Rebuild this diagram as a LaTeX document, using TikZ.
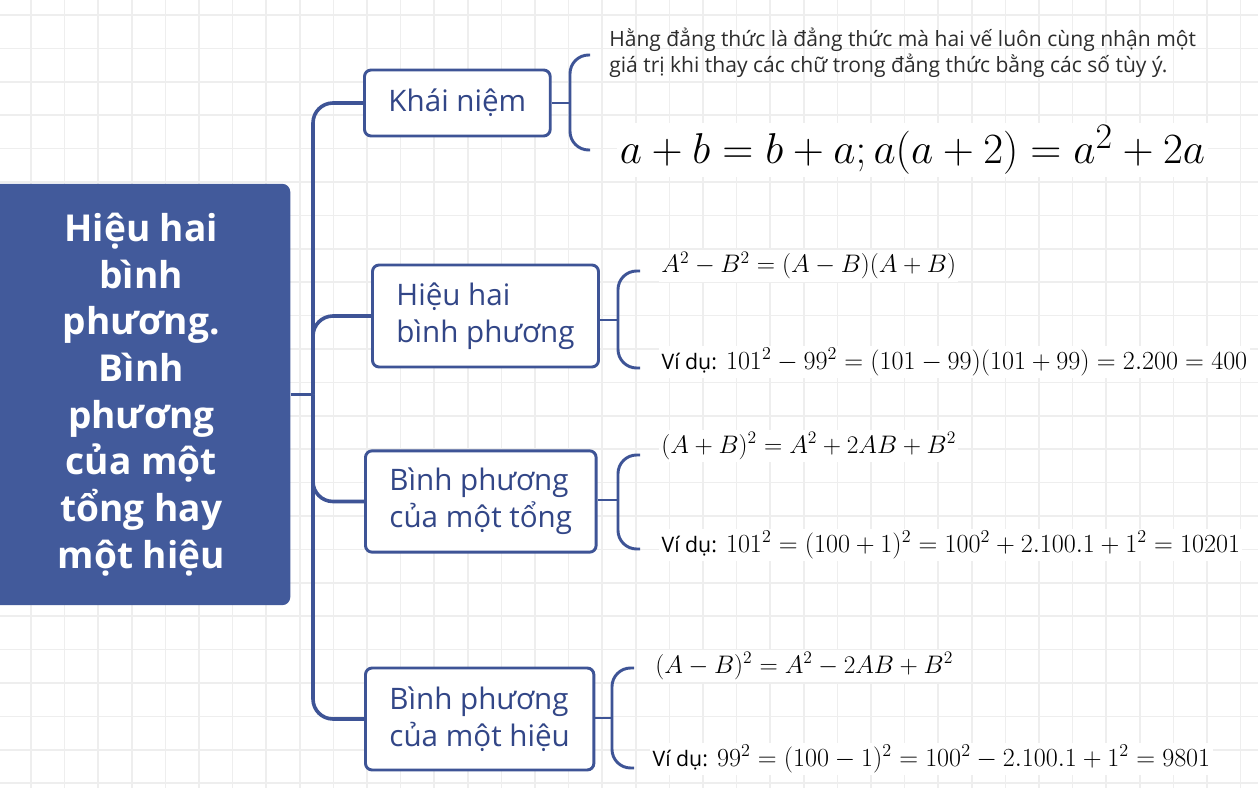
\documentclass[tikz,border=0pt]{standalone}
\usepackage[no-math]{fontspec}
\setmainfont{Open Sans}
\definecolor{mainblue}{RGB}{66,90,155}
\definecolor{lineblue}{RGB}{62,84,150}
\definecolor{txtblue}{RGB}{50,70,135}
\definecolor{gridc}{RGB}{238,238,238}
\definecolor{deftxt}{RGB}{45,45,45}
\newcommand\viduf{\fontsize{14.1}{16}\selectfont}
\begin{document}
\begin{tikzpicture}[x=0.75pt,y=-0.75pt,
  gridline/.style={draw=gridc, line width=1.2pt},
  conn/.style={draw=lineblue, line width=2.7pt, rounded corners=15pt},
  bracec/.style={draw=lineblue, line width=2.2pt, rounded corners=14pt},
  rootbox/.style={fill=mainblue, rounded corners=6pt, text=white, align=center,
    font=\fontsize{27.8}{35}\selectfont\bfseries, minimum width=223.5pt, minimum height=316pt, inner sep=0pt},
  branch/.style={draw=lineblue, line width=2.2pt, rounded corners=5pt, fill=white,
    text=txtblue, align=left, font=\fontsize{22.2}{27.5}\selectfont, inner xsep=18pt, inner ysep=0pt},
  formula/.style={fill=white, inner sep=1.5pt, text=black, font=\fontsize{17.28}{20}\selectfont, scale=1.10, transform shape},
  example/.style={fill=white, inner sep=1.5pt, text=black, font=\fontsize{17.28}{20}\selectfont, scale=1.134, transform shape},
  bigformula/.style={fill=white, inner sep=1.5pt, text=black, font=\fontsize{24.88}{28}\selectfont, scale=1.30, transform shape}
]
\clip (0,0) rectangle (1258,788);
\fill[white] (0,0) rectangle (1258,788);
\foreach \i in {0,...,37} {\draw[gridline] ({31+33.6*\i},0) -- ({31+33.6*\i},788);}
\foreach \i in {0,...,23} {\draw[gridline] (0,{15+33.4*\i}) -- (1258,{15+33.4*\i});}

% root
\node[rootbox, anchor=west] (root) at (-8,394.5) {Hiệu hai\\bình\\phương.\\Bình\\phương\\của một\\tổng hay\\một hiệu};
\coordinate (J) at (313,394.5);

% branch boxes
\node[branch, anchor=west, minimum height=49.5pt] (k) at (363,103) {Khái niệm};
\node[branch, anchor=west, minimum height=76.5pt] (h) at (371,316) {Hiệu hai\\bình phương};
\node[branch, anchor=west, minimum height=76pt] (t) at (364,501.5) {Bình phương\\của một tổng};
\node[branch, anchor=west, minimum height=76.5pt] (d) at (364,719) {Bình phương\\của một hiệu};

% trunk connectors
\draw[conn] (root.east |- J) -- (J);
\draw[conn] (J) |- (k.west);
\draw[conn] (J) |- (h.west);
\draw[conn] (J) |- (t.west);
\draw[conn] (J) |- (d.west);

% braces
\coordinate (kj) at (570,103); \coordinate (kt) at (590,55); \coordinate (kb) at (590,150);
\coordinate (hj) at (618,320); \coordinate (ht) at (640,271); \coordinate (hb) at (640,368);
\coordinate (tj) at (618,500); \coordinate (tt) at (640,455); \coordinate (tb) at (640,549);
\coordinate (dj) at (612,718); \coordinate (dt) at (634,668); \coordinate (db) at (634,768);
\draw[bracec] (k.east |- kj) -- (kj);
\draw[bracec] (kt) -| (kj) |- (kb);
\draw[bracec] (h.east |- hj) -- (hj);
\draw[bracec] (ht) -| (hj) |- (hb);
\draw[bracec] (t.east |- tj) -- (tj);
\draw[bracec] (tt) -| (tj) |- (tb);
\draw[bracec] (d.east |- dj) -- (dj);
\draw[bracec] (dt) -| (dj) |- (db);

% texts
\node[anchor=north west, inner sep=0pt, align=left, text=deftxt, font=\fontsize{15.8}{19.5}\selectfont] (def) at (609,28)
  {Hằng đẳng thức là đẳng thức mà hai vế luôn cùng nhận một\\giá trị khi thay các chữ trong đẳng thức bằng các số tùy ý.};
\node[bigformula, anchor=base west] (f1) at (617,164) {$a+b=b+a;a(a+2)=a^2+2a$};

\node[formula, anchor=base west] (f2) at (659,273) {$A^2-B^2=(A-B)(A+B)$};
\node[example, anchor=base west] (e2) at (659,369) {{\viduf Ví dụ:} $101^2-99^2=(101-99)(101+99)=2.200=400$};

\node[formula, anchor=base west] (f3) at (659,453) {$(A+B)^2=A^2+2AB+B^2$};
\node[example, anchor=base west] (e3) at (659,552) {{\viduf Ví dụ:} $101^2=(100+1)^2=100^2+2.100.1+1^2=10201$};

\node[formula, anchor=base west] (f4) at (653,673) {$(A-B)^2=A^2-2AB+B^2$};
\node[example, anchor=base west] (e4) at (650,766) {{\viduf Ví dụ:} $99^2=(100-1)^2=100^2-2.100.1+1^2=9801$};
\end{tikzpicture}
\end{document}
